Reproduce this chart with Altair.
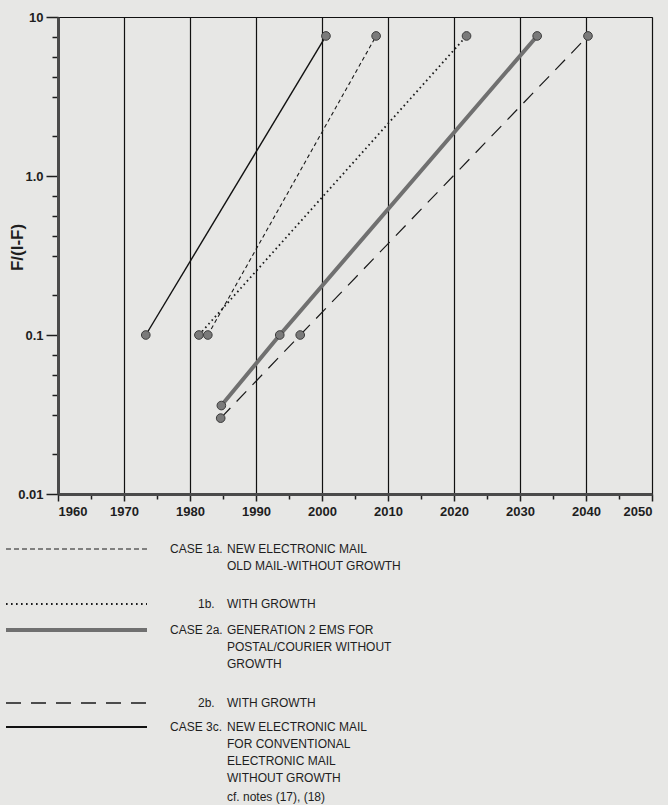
import altair as alt
import pandas as pd

# Saturation curves, F/(1-F) on a log axis, one list pair per case
YEARS_1A = [1982.7, 2008.2]
VALUES_1A = [0.1, 7.6]
YEARS_1B = [1981.35, 2021.9]
VALUES_1B = [0.1, 7.6]
YEARS_2A = [1984.75, 1993.6, 2032.6]
VALUES_2A = [0.036, 0.1, 7.6]
YEARS_2B = [1984.65, 1996.7, 2040.3]
VALUES_2B = [0.030, 0.1, 7.6]
YEARS_3C = [1973.3, 2000.6]
VALUES_3C = [0.1, 7.6]

CASES = ["1a", "1b", "2a", "2b", "3c"]
SERIES = {
    "1a": (YEARS_1A, VALUES_1A),
    "1b": (YEARS_1B, VALUES_1B),
    "2a": (YEARS_2A, VALUES_2A),
    "2b": (YEARS_2B, VALUES_2B),
    "3c": (YEARS_3C, VALUES_3C),
}

LEGEND_TAGS = ["CASE 1a.", "1b.", "CASE 2a.", "2b.", "CASE 3c."]
LEGEND_TEXT = [
    "NEW ELECTRONIC MAIL\nOLD MAIL-WITHOUT GROWTH",
    "WITH GROWTH",
    "GENERATION 2 EMS FOR\nPOSTAL/COURIER WITHOUT\nGROWTH",
    "WITH GROWTH",
    "NEW ELECTRONIC MAIL\nFOR CONVENTIONAL\nELECTRONIC MAIL\nWITHOUT GROWTH",
]
NOTE_TEXT = "cf. notes (17), (18)"

X_TICKS = list(range(1960, 2051, 5))
Y_MAJOR = [0.01, 0.1, 1, 10]
Y_MINOR_STEPS = [1, 2, 3, 4, 6]  # eighths of a decade below each major tick
Y_TICKS = sorted(Y_MAJOR + [10 ** (k - s / 8) for k in (1, 0, -1) for s in Y_MINOR_STEPS])

# line styles per case
STYLE = {
    "1a": dict(color="#1a1a1a", strokeWidth=1.1, strokeDash=[4, 3]),
    "1b": dict(color="#1a1a1a", strokeWidth=1.8, strokeDash=[1.6, 3.2]),
    "2a": dict(color="#707070", strokeWidth=4),
    "2b": dict(color="#1a1a1a", strokeWidth=1.2, strokeDash=[14, 9]),
    "3c": dict(color="#111111", strokeWidth=1.4),
}
LEGEND_STYLE = {
    "1a": dict(color="#1a1a1a", strokeWidth=1.1, strokeDash=[5, 3]),
    "1b": dict(color="#1a1a1a", strokeWidth=1.8, strokeDash=[1.6, 3.4]),
    "2a": dict(color="#707070", strokeWidth=4),
    "2b": dict(color="#1a1a1a", strokeWidth=1.4, strokeDash=[15, 10]),
    "3c": dict(color="#111111", strokeWidth=2),
}
# first-line offsets (px from top of plot) for each legend entry
LEGEND_ROW_Y = [532, 587, 613, 686, 710]
NOTE_Y = 780
SAMPLE_X0, SAMPLE_X1 = -52, 89
TAG_X = 112
TAG_X_SHORT = 140
DESC_X = 169

AXIS_FONT = "Liberation Sans, Arial, sans-serif"
LEGEND_FONT = "Liberation Sans, Arial, sans-serif"
INK = "#1e1e1e"

MAJOR_Y_TEST = "abs(log(datum.value)/LN10 - round(log(datum.value)/LN10)) < 0.01"
MAJOR_X_TEST = "datum.value % 10 === 0"

x_enc = alt.X(
    "year:Q",
    scale=alt.Scale(domain=[1960, 2050], nice=False, zero=False),
    axis=alt.Axis(
        values=X_TICKS,
        labelExpr="datum.value % 10 === 0 ? '' + datum.value : ''",
        tickSize={"condition": {"test": MAJOR_X_TEST, "value": 7}, "value": 5},
        tickColor=INK,
        tickWidth=1.5,
        grid=True,
        gridColor="#111111",
        gridWidth=1.2,
        gridOpacity={"condition": {"test": MAJOR_X_TEST, "value": 1}, "value": 0},
        domainColor="#4a4a4a",
        domainWidth=3,
        labelFont=AXIS_FONT,
        labelFontSize=13,
        labelFontWeight="bold",
        labelColor=INK,
        labelPadding=4,
        title=None,
    ),
)
y_enc = alt.Y(
    "value:Q",
    scale=alt.Scale(type="log", domain=[0.01, 10], nice=False),
    axis=alt.Axis(
        values=Y_TICKS,
        labelExpr=(
            f"({MAJOR_Y_TEST}) ? (datum.value > 5 ? '10' : datum.value > 0.5 ? '1.0' : "
            "datum.value > 0.05 ? '0.1' : '0.01') : ''"
        ),
        tickSize={"condition": {"test": MAJOR_Y_TEST, "value": 12}, "value": 6},
        tickColor=INK,
        tickWidth=1.5,
        grid=False,
        domainColor="#4a4a4a",
        domainWidth=3,
        labelFont=AXIS_FONT,
        labelFontSize=13,
        labelFontWeight="bold",
        labelColor=INK,
        labelPadding=3,
        title="F/(I-F)",
        titleFont=AXIS_FONT,
        titleFontSize=17,
        titleFontWeight="bold",
        titleColor=INK,
        titleAngle=270,
        titleBaseline="middle",
        titleAlign="center",
        titleX=-41,
        titleY=230,
    ),
)

layers = []
for case in CASES:
    yrs, vals = SERIES[case]
    df = pd.DataFrame({"year": yrs, "value": vals})
    layers.append(
        alt.Chart(df).mark_line(**STYLE[case]).encode(x=x_enc, y=y_enc)
    )
for case in CASES:
    yrs, vals = SERIES[case]
    df = pd.DataFrame({"year": yrs, "value": vals})
    layers.append(
        alt.Chart(df)
        .mark_point(filled=True, size=75, fill="#7a7a7a", stroke="#3c3c3c",
                    strokeWidth=1, opacity=1)
        .encode(x=x_enc, y=y_enc)
    )

# legend block beneath the plot
one = pd.DataFrame({"k": [0]})
for i, case in enumerate(CASES):
    row_y = LEGEND_ROW_Y[i]
    layers.append(
        alt.Chart(one).mark_rule(**LEGEND_STYLE[case]).encode(
            x=alt.value(SAMPLE_X0), x2=alt.value(SAMPLE_X1), y=alt.value(row_y)
        )
    )
    tag = LEGEND_TAGS[i]
    layers.append(
        alt.Chart(pd.DataFrame({"t": [tag]}))
        .mark_text(font=LEGEND_FONT, fontSize=12, color=INK, align="left",
                   baseline="middle")
        .encode(x=alt.value(TAG_X if tag.startswith("CASE") else TAG_X_SHORT),
                y=alt.value(row_y), text="t:N")
    )
    layers.append(
        alt.Chart(pd.DataFrame({"t": [LEGEND_TEXT[i]]}))
        .mark_text(font=LEGEND_FONT, fontSize=12, color=INK, align="left",
                   baseline="middle", lineBreak="\n", lineHeight=17)
        .encode(x=alt.value(DESC_X), y=alt.value(row_y), text="t:N")
    )
layers.append(
    alt.Chart(pd.DataFrame({"t": [NOTE_TEXT]}))
    .mark_text(font=LEGEND_FONT, fontSize=12, color=INK, align="left",
               baseline="middle")
    .encode(x=alt.value(DESC_X), y=alt.value(NOTE_Y), text="t:N")
)

chart = (
    alt.layer(*layers)
    .properties(
        width=594,
        height=477,
        autosize=alt.AutoSizeParams(type="none"),
        padding={"left": 58, "top": 17, "right": 16, "bottom": 311},
        background="#e7e7e5",
    )
    .configure_view(stroke="#111111", strokeWidth=1)
)

chart.save("out.html", embed_options={"renderer": "svg", "actions": False})
